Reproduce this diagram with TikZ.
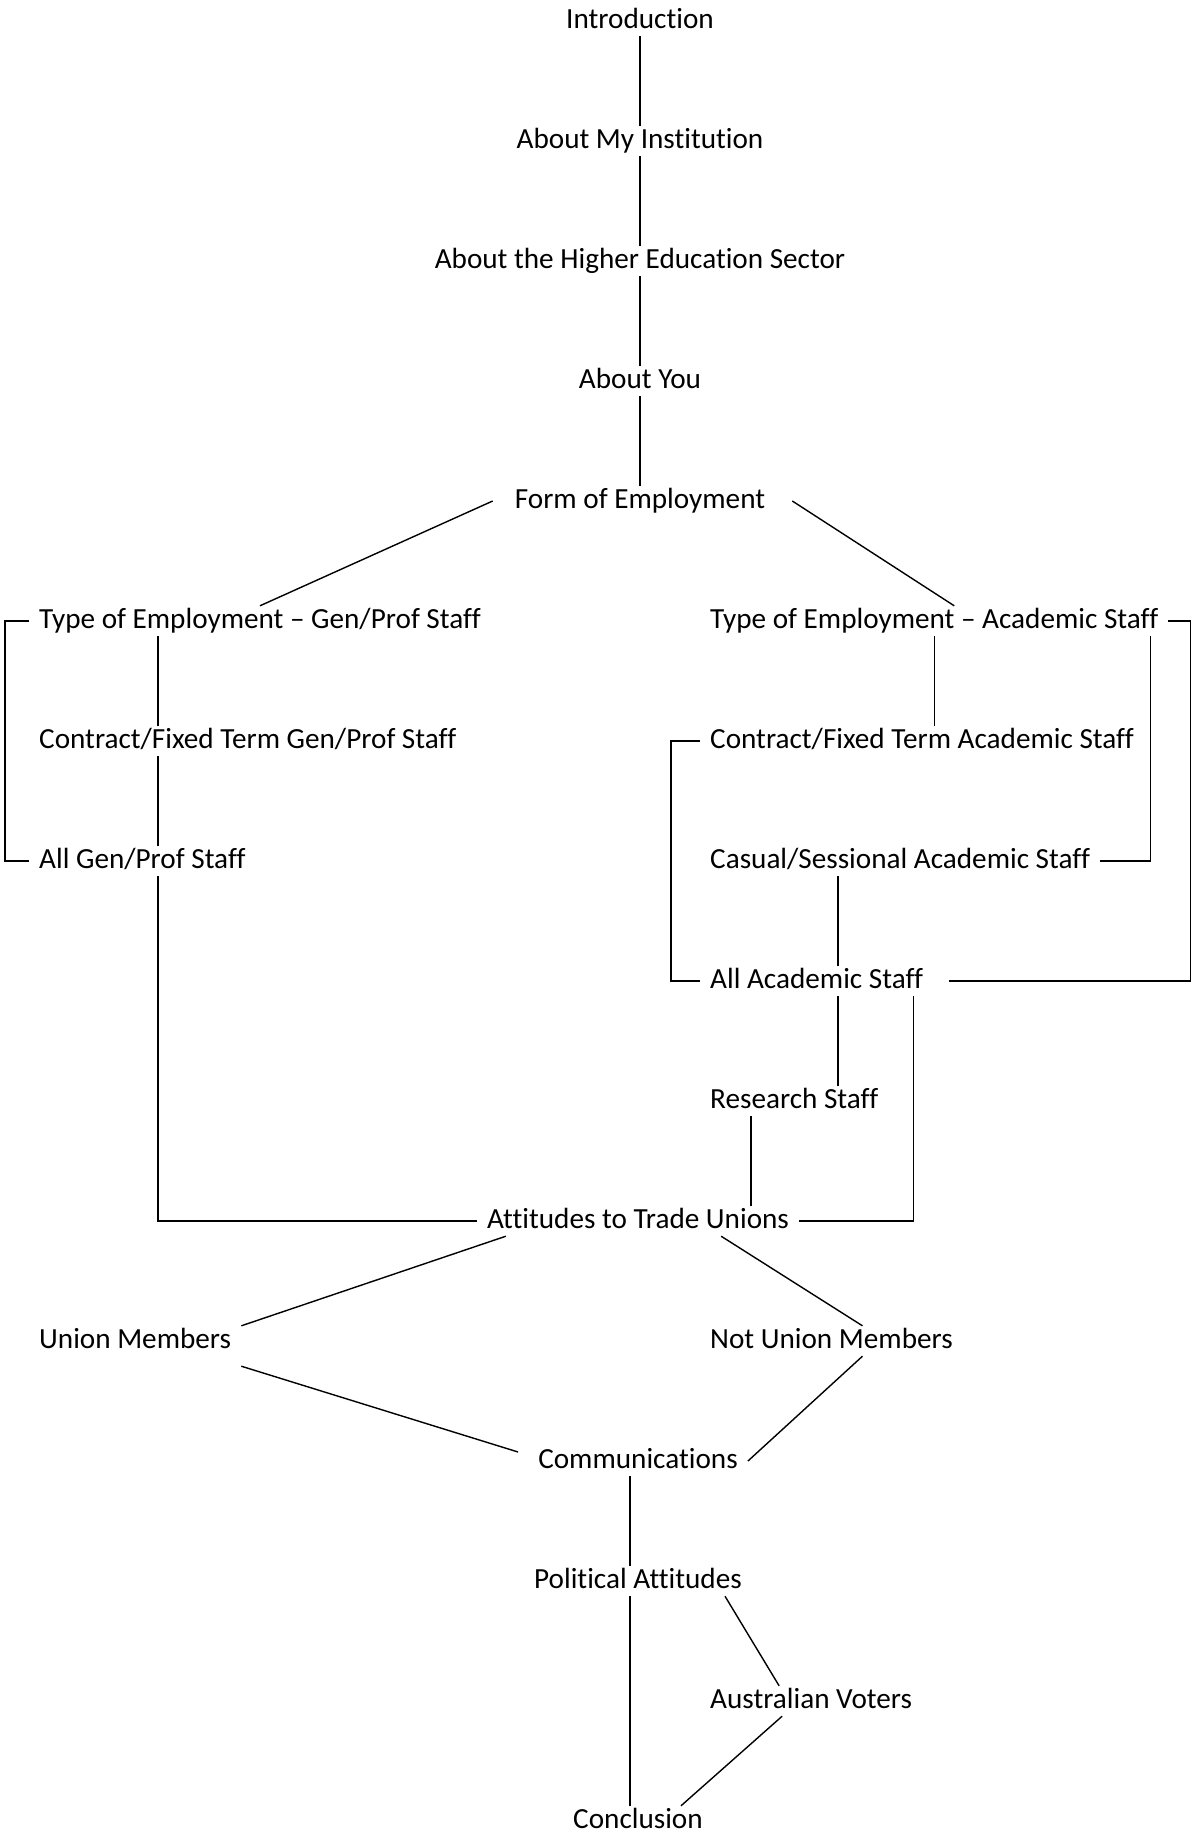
\documentclass[tikz,border=0pt]{standalone}
\usepackage{fontspec}
\setmainfont[Ligatures={TeX,NoCommon}]{Carlito}
\usepackage{tikz}
\tikzstyle{topic} = [inner xsep=10pt, inner ysep=2pt, text height=20pt,
    text depth=6pt, font=\fontsize{29.2}{35}\selectfont]
\tikzstyle{lcol} = [topic, anchor=west]
\tikzstyle{link} = [line width=1.4pt]

\begin{document}
\begin{tikzpicture}[x=1pt, y=-1pt, node distance=120pt]
    \useasboundingbox (0,0) rectangle (1195,1837);

    % main column
    \node [topic] (intro) at (640,21) {Introduction};
    \node [topic, below of=intro] (inst) {About My Institution};
    \node [topic, below of=inst] (sector) {About the Higher Education Sector};
    \node [topic, below of=sector] (you) {About You};
    \node [topic, below of=you] (form) {Form of Employment};

    % general / professional staff
    \node [lcol] (typegp) at (29,621) {Type of Employment -- Gen/Prof Staff};
    \node [lcol] (congp) at (29,741) {Contract/Fixed Term Gen/Prof Staff};
    \node [lcol] (allgp) at (29,861) {All Gen/Prof Staff};

    % academic staff
    \node [lcol] (typeac) at (700,621) {Type of Employment -- Academic Staff};
    \node [lcol] (conac) at (700,741) {Contract/Fixed Term Academic Staff};
    \node [lcol] (casual) at (700,861) {Casual/Sessional Academic Staff};
    \node [lcol] (allac) at (700,981) {All Academic Staff};
    \node [lcol] (research) at (700,1101) {Research Staff};

    \node [topic] (att) at (638,1221) {Attitudes to Trade Unions};
    \node [lcol] (union) at (29,1341) {Union Members};
    \node [lcol] (notunion) at (700,1341) {Not Union Members};
    \node [topic, below of=att, node distance=240pt] (comm) {Communications};
    \node [topic, below of=comm] (polit) {Political Attitudes};
    \node [lcol] (voters) at (700,1701) {Australian Voters};
    \node [topic, below of=polit, node distance=240pt] (concl) {Conclusion};

    \coordinate (gpx) at (158,0);
    \coordinate (acx) at (838,0);
    \coordinate (rsx) at (751,0);

    \draw [link] (intro) -- (inst);
    \draw [link] (inst) -- (sector);
    \draw [link] (sector) -- (you);
    \draw [link] (you) -- (form);
    \draw [link] ([xshift=-12pt]form.west) -- (typegp.north);
    \draw [link] ([xshift=17pt]form.east) -- ([xshift=20pt]typeac.north);

    \draw [link] (typegp.south -| gpx) -- (congp.north -| gpx);
    \draw [link] (congp.south -| gpx) -- (allgp.north -| gpx);
    \draw [link] (allgp.south -| gpx) |- (att.west);
    \draw [link] (typegp.west) -- ++(-24,0) |- (allgp.west);

    \draw [link] (typeac.south) -- (typeac.south |- conac.north);
    \draw [link] ([xshift=-18pt]typeac.south east) |- (casual.east);
    \draw [link] (typeac.east) -- ++(22,0) |- ([xshift=16pt]allac.east);
    \draw [link] (conac.west) -- ++(-29,0) |- (allac.west);
    \draw [link] (casual.south -| acx) -- (allac.north -| acx);
    \draw [link] (allac.south -| acx) -- (research.north -| acx);
    \draw [link] (research.south -| rsx) -- (att.north -| rsx);
    \draw [link] ([xshift=-20pt]allac.south east) |- (att.east);

    \draw [link] ([xshift=29pt]att.south west) -- (union.north east);
    \draw [link] ([xshift=-78pt]att.south east) -- ([xshift=31pt]notunion.north);
    \draw [link] ([yshift=-10pt]union.south east) -- ([xshift=-10pt,yshift=9pt]comm.west);
    \draw [link] ([xshift=31pt]notunion.south) -- (comm.east);
    \draw [link] ([xshift=-8pt]comm.south) -- ([xshift=-8pt]polit.north);
    \draw [link] ([xshift=-8pt]polit.south) -- ([xshift=-8pt]concl.north);
    \draw [link] ([xshift=-27pt]polit.south east) -- ([xshift=-32pt]voters.north);
    \draw [link] ([xshift=-29pt]voters.south) -- ([xshift=-32pt]concl.north east);
\end{tikzpicture}
\end{document}
